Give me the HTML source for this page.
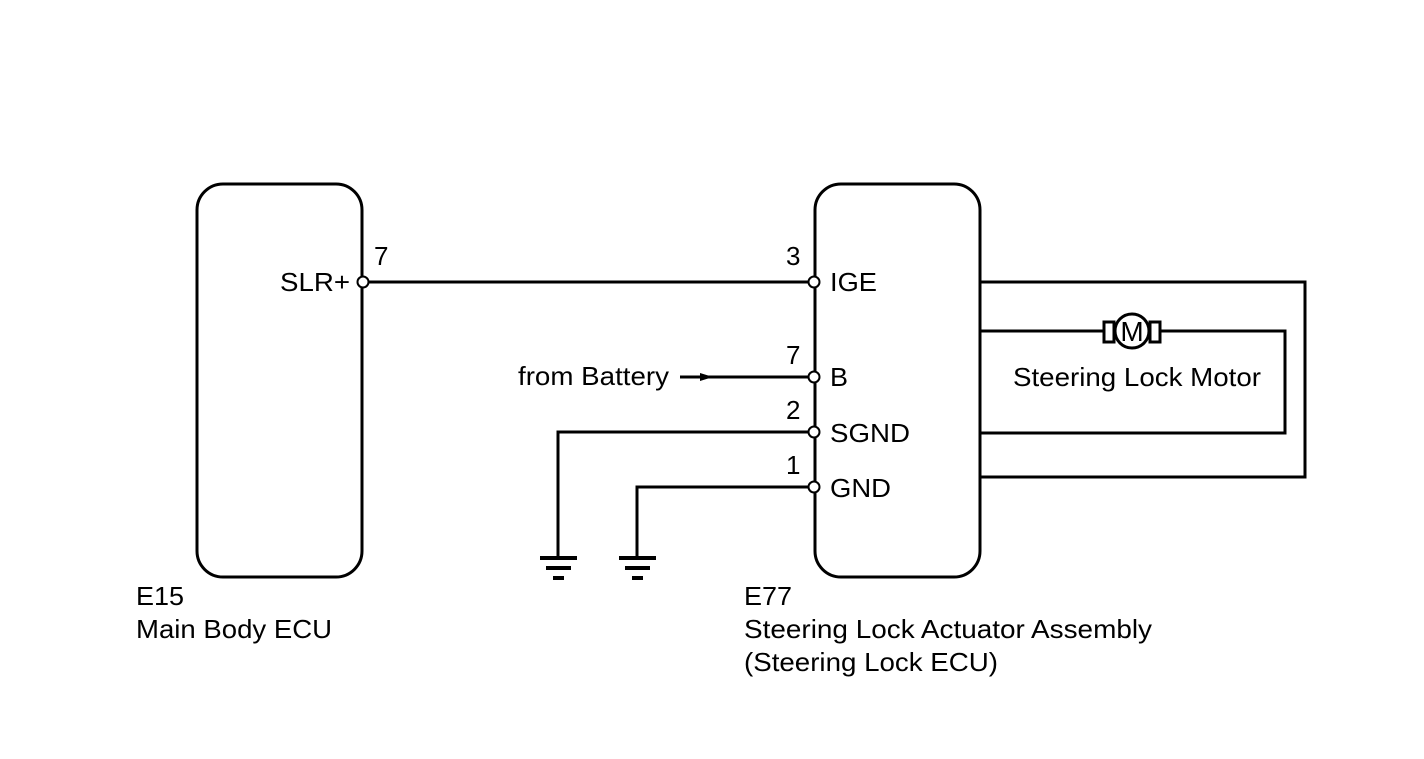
<!DOCTYPE html>
<html><head><meta charset="utf-8"><style>
html,body{margin:0;padding:0;background:#fff;}
svg{display:block;}
text{font-family:"Liberation Sans",Arial,sans-serif;font-size:26px;fill:#000;}
</style></head><body>
<svg width="1424" height="759" viewBox="0 0 1424 759" xmlns="http://www.w3.org/2000/svg">
<g fill="none" stroke="#000" stroke-width="3">
<rect x="197" y="184" width="165" height="393" rx="26" ry="26"/>
<rect x="815" y="184" width="165" height="393" rx="26" ry="26"/>
<line x1="368" y1="282" x2="809" y2="282"/>
<line x1="680" y1="377" x2="809" y2="377"/>
<polyline points="809,432 558,432 558,558"/>
<polyline points="809,487 637,487 637,558"/>
<polyline points="980,282 1305,282 1305,477 980,477"/>
<polyline points="980,331 1104,331"/>
<polyline points="1160,331 1285,331 1285,433 980,433"/>
<rect x="1104" y="322" width="10" height="20"/>
<rect x="1150" y="322" width="10" height="20"/>
<circle cx="1132" cy="331" r="17" fill="#fff"/>
</g>
<g stroke="#000" stroke-width="4">
<line x1="540" y1="558" x2="577" y2="558"/>
<line x1="546" y1="568" x2="571" y2="568"/>
<line x1="553" y1="578" x2="564" y2="578"/>
<line x1="619" y1="558" x2="656" y2="558"/>
<line x1="625" y1="568" x2="650" y2="568"/>
<line x1="632" y1="578" x2="643" y2="578"/>
</g>
<polygon points="700,373 713,377 700,381" fill="#000"/>
<g fill="#fff" stroke="#000" stroke-width="2">
<circle cx="363" cy="282" r="5.5"/>
<circle cx="814" cy="282" r="5.5"/>
<circle cx="814" cy="377" r="5.5"/>
<circle cx="814" cy="432" r="5.5"/>
<circle cx="814" cy="487" r="5.5"/>
</g>
<text x="1132" y="341" text-anchor="middle" style="font-size:28px">M</text>
<text x="280" y="291" textLength="70" lengthAdjust="spacingAndGlyphs">SLR+</text>
<text x="374" y="265">7</text>
<text x="786" y="265">3</text>
<text x="830" y="291" textLength="47" lengthAdjust="spacingAndGlyphs">IGE</text>
<text x="786" y="364">7</text>
<text x="830" y="386" textLength="18" lengthAdjust="spacingAndGlyphs">B</text>
<text x="518" y="385" textLength="151" lengthAdjust="spacingAndGlyphs">from Battery</text>
<text x="786" y="419">2</text>
<text x="830" y="442" textLength="80" lengthAdjust="spacingAndGlyphs">SGND</text>
<text x="786" y="474">1</text>
<text x="830" y="497" textLength="61" lengthAdjust="spacingAndGlyphs">GND</text>
<text x="1013" y="386" textLength="248" lengthAdjust="spacingAndGlyphs">Steering Lock Motor</text>
<text x="136" y="605" textLength="48" lengthAdjust="spacingAndGlyphs">E15</text>
<text x="136" y="638" textLength="196" lengthAdjust="spacingAndGlyphs">Main Body ECU</text>
<text x="744" y="605" textLength="48" lengthAdjust="spacingAndGlyphs">E77</text>
<text x="744" y="638" textLength="408" lengthAdjust="spacingAndGlyphs">Steering Lock Actuator Assembly</text>
<text x="744" y="671" textLength="254" lengthAdjust="spacingAndGlyphs">(Steering Lock ECU)</text>
</svg>
</body></html>
